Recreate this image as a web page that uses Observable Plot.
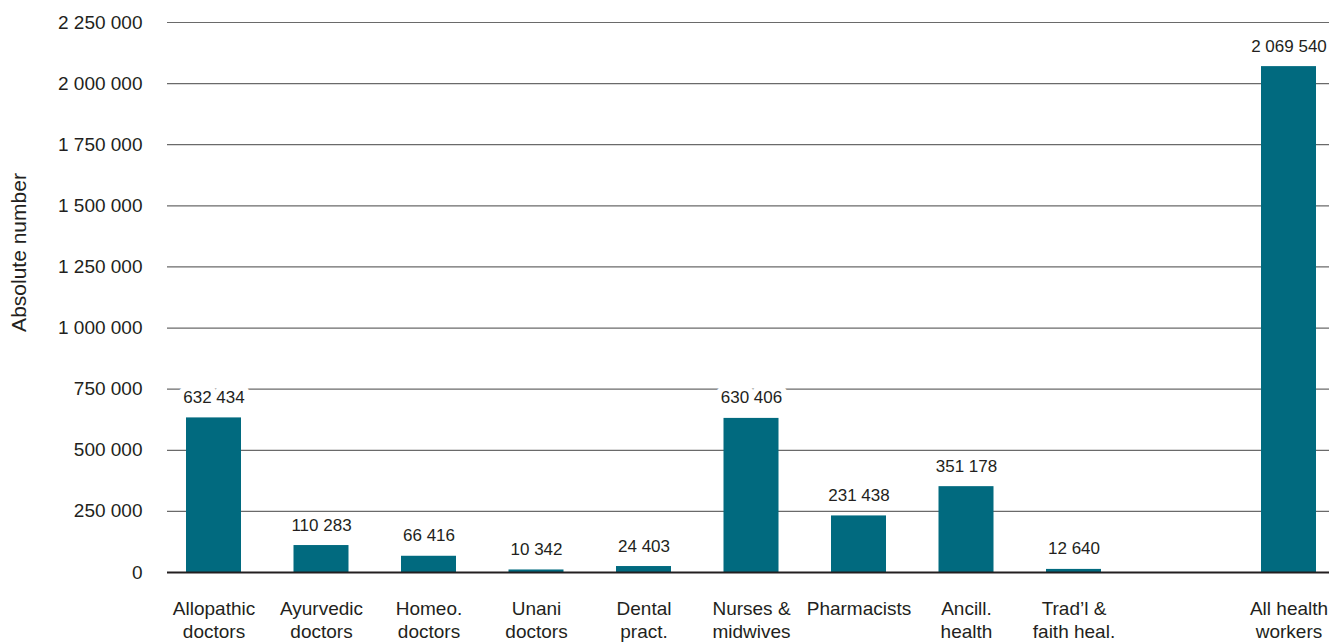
<!DOCTYPE html>
<html>
<head>
<meta charset="utf-8">
<script src="https://cdn.jsdelivr.net/npm/d3@7"></script>
<script src="https://cdn.jsdelivr.net/npm/@observablehq/plot@0.6"></script>
<style>
  html, body { margin: 0; padding: 0; background: #fff; }
  #chart svg { display: block; }
</style>
</head>
<body>
<div id="chart"></div>
<script>
// ---- Data ----
const categories = [
  "Allopathic doctors", "Ayurvedic doctors", "Homeo. doctors", "Unani doctors",
  "Dental pract.", "Nurses & midwives", "Pharmacists", "Ancill. health",
  "Trad’l & faith heal.", "All health workers"
];
const labels = [
  "Allopathic\ndoctors", "Ayurvedic\ndoctors", "Homeo.\ndoctors", "Unani\ndoctors",
  "Dental\npract.", "Nurses &\nmidwives", "Pharmacists", "Ancill.\nhealth",
  "Trad’l &\nfaith heal.", "All health\nworkers"
];
const values = [632434, 110283, 66416, 10342, 24403, 630406, 231438, 351178, 12640, 2069540];
const yTicks = [0, 250000, 500000, 750000, 1000000, 1250000, 1500000, 1750000, 2000000, 2250000];
const yLabel = "Absolute number";

const data = categories.map((c, i) => ({category: c, label: labels[i], value: values[i]}));
// a blank slot separates the total from the individual groups
const xDomain = [...categories.slice(0, 9), "", categories[9]];

const fmt = d3.formatLocale({thousands: " ", grouping: [3], decimal: "."}).format(",d");

const ink = "#231f20";
const teal = "#016a7f";

const chart = Plot.plot({
  width: 1339,
  height: 644,
  marginLeft: 167,
  marginRight: 10,
  marginTop: 22,
  marginBottom: 72,
  style: {fontFamily: "'Liberation Sans', Arial, sans-serif", color: ink, background: "#fff"},
  x: {type: "band", domain: xDomain, range: [186, 1316], paddingInner: 0.4884, paddingOuter: 0, align: 0.5, round: false, axis: null},
  y: {domain: [0, 2250000], axis: null},
  marks: [
    Plot.ruleY(yTicks.filter(d => d > 0), {stroke: "#6a6a6a", strokeWidth: 1.2}),
    Plot.axisY(yTicks, {tickSize: 0, tickPadding: 25, tickFormat: fmt, fontSize: 19, fill: ink, label: null}),
    Plot.barY(data, {x: "category", y: "value", fill: teal}),
    Plot.text(data, {
      x: "category", y: "value", text: d => fmt(d.value),
      lineAnchor: "bottom", dy: -15, fontSize: 17, fill: ink,
      stroke: "white", strokeWidth: 12, strokeLinejoin: "round"
    }),
    Plot.ruleY([0], {stroke: ink, strokeWidth: 2.2}),
    Plot.text(data, {
      x: "category", frameAnchor: "bottom", text: "label",
      lineAnchor: "top", dy: 26, lineHeight: 1.23, fontSize: 19, fill: ink
    }),
    Plot.text([yLabel], {
      text: d => d, frameAnchor: "left", rotate: -90,
      dx: -148, dy: -45, fontSize: 21, fill: ink, textAnchor: "middle"
    })
  ]
});
document.getElementById("chart").appendChild(chart);
</script>
</body>
</html>
